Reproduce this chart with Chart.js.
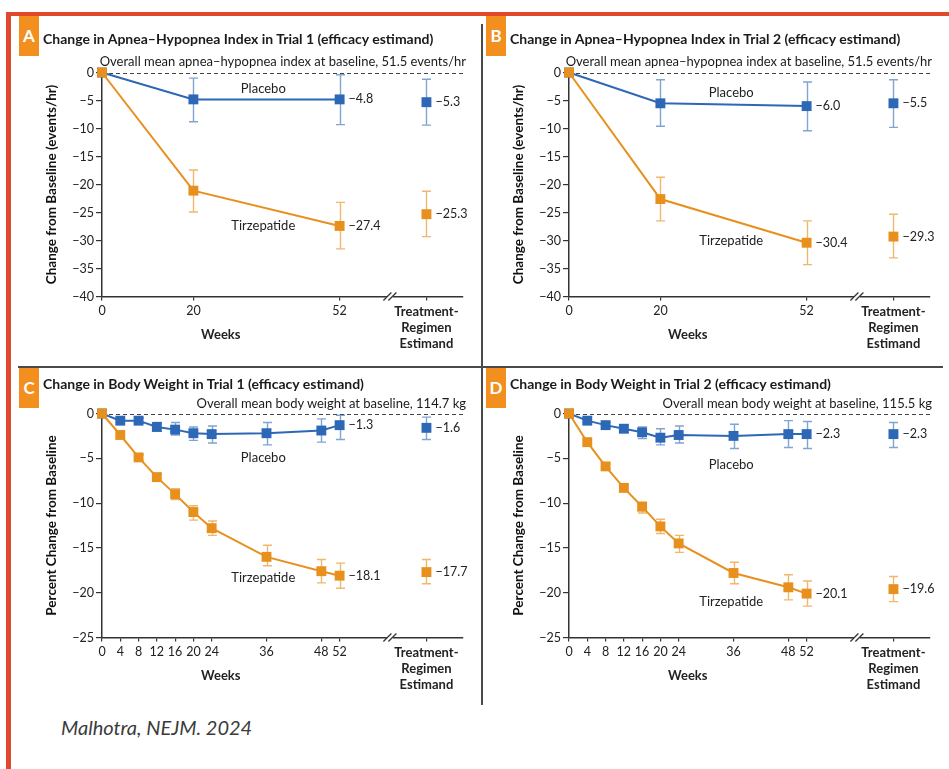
<!DOCTYPE html>
<html>
<head>
<meta charset="utf-8">
<script src="https://cdn.jsdelivr.net/npm/chart.js@4.4.1/dist/chart.umd.min.js"></script>
<style>
  body { margin: 0; width: 949px; height: 769px; background: #fff; position: relative; overflow: hidden; font-family: Lato, sans-serif; color: #1a1a1a; }
  canvas { position: absolute; }
  .red { position: absolute; background: #e1492f; }
  .sep { position: absolute; background: #4a4a4a; }
  .badge { position: absolute; width: 20px; height: 40px; background: #f28f1f; color: #fff; font-weight: bold; font-size: 17px; line-height: 40px; text-align: center; }
  .title { position: absolute; white-space: nowrap; font-weight: bold; font-size: 14px; line-height: 16px; }
  .sub { position: absolute; white-space: nowrap; font-size: 13px; line-height: 16px; }
  .cite { position: absolute; left: 61px; top: 715px; font-style: italic; font-size: 20px; line-height: 24px; color: #3b3b3b; }
</style>
</head>
<body>
<div class="red" style="left:6px; top:12px; width:943px; height:4px;"></div>
<div class="red" style="left:6px; top:12px; width:5px; height:757px;"></div>
<div class="sep" style="left:481px; top:24px; width:2px; height:681px;"></div>
<div class="sep" style="left:18px; top:366px; width:925px; height:2px;"></div>

<canvas id="cA" width="480" height="362" style="left:0; top:0;"></canvas>
<canvas id="cB" width="480" height="362" style="left:467px; top:0;"></canvas>
<canvas id="cC" width="480" height="362" style="left:0; top:341px;"></canvas>
<canvas id="cD" width="480" height="362" style="left:467px; top:341px;"></canvas>

<div class="badge" style="left:19px; top:16px;">A</div>
<div class="badge" style="left:486px; top:16px;">B</div>
<div class="badge" style="left:19px; top:368px;">C</div>
<div class="badge" style="left:486px; top:368px;">D</div>

<div class="title" style="left:43px; top:31px;">Change in Apnea–Hypopnea Index in Trial 1 (efficacy estimand)</div>
<div class="title" style="left:510px; top:31px;">Change in Apnea–Hypopnea Index in Trial 2 (efficacy estimand)</div>
<div class="title" style="left:43px; top:376px;">Change in Body Weight in Trial 1 (efficacy estimand)</div>
<div class="title" style="left:510px; top:376px;">Change in Body Weight in Trial 2 (efficacy estimand)</div>

<div class="sub" style="right:483px; top:53px;">Overall mean apnea–hypopnea index at baseline, 51.5 events/hr</div>
<div class="sub" style="right:17px; top:53px;">Overall mean apnea–hypopnea index at baseline, 51.5 events/hr</div>
<div class="sub" style="right:483px; top:395px;">Overall mean body weight at baseline, 114.7 kg</div>
<div class="sub" style="right:17px; top:395px;">Overall mean body weight at baseline, 115.5 kg</div>

<div class="cite">Malhotra, NEJM. 2024</div>

<script>
// x positions (weeks) and axis ticks
const weeksAHI = [0, 20, 52];
const weeksBW = [0, 4, 8, 12, 16, 20, 24, 36, 48, 52];
const yTicksAHI = [0, -5, -10, -15, -20, -25, -30, -35, -40];
const yTicksBW = [0, -5, -10, -15, -20, -25];
const treLabel = ['Treatment-', 'Regimen', 'Estimand'];

// A: apnea-hypopnea index, trial 1  (mean, upper CI, lower CI)
const ahi1PlaceboMean = [0, -4.8, -4.8];
const ahi1PlaceboHigh = [null, -1.0, -0.4];
const ahi1PlaceboLow = [null, -8.8, -9.3];
const ahi1TirzMean = [0, -21.1, -27.4];
const ahi1TirzHigh = [null, -17.4, -23.2];
const ahi1TirzLow = [null, -24.9, -31.5];
const ahi1PlaceboTRE = [-5.3, -1.2, -9.4];
const ahi1TirzTRE = [-25.3, -21.2, -29.3];

// B: apnea-hypopnea index, trial 2
const ahi2PlaceboMean = [0, -5.5, -6.0];
const ahi2PlaceboHigh = [null, -1.3, -1.7];
const ahi2PlaceboLow = [null, -9.6, -10.4];
const ahi2TirzMean = [0, -22.6, -30.4];
const ahi2TirzHigh = [null, -18.7, -26.5];
const ahi2TirzLow = [null, -26.5, -34.3];
const ahi2PlaceboTRE = [-5.5, -1.3, -9.8];
const ahi2TirzTRE = [-29.3, -25.3, -33.1];

// C: body weight, trial 1
const bw1PlaceboMean = [0, -0.8, -0.8, -1.5, -1.8, -2.2, -2.3, -2.2, -1.9, -1.3];
const bw1PlaceboHigh = [null, -0.5, -0.5, -1.0, -1.0, -1.5, -1.4, -1.0, -0.6, -0.2];
const bw1PlaceboLow = [null, -1.1, -1.1, -2.0, -2.4, -3.0, -3.3, -3.5, -3.2, -2.9];
const bw1TirzMean = [0, -2.4, -4.9, -7.1, -9.0, -11.0, -12.8, -16.0, -17.6, -18.1];
const bw1TirzHigh = [null, -2.1, -4.6, -6.7, -8.4, -10.3, -12.0, -14.7, -16.3, -16.7];
const bw1TirzLow = [null, -2.7, -5.2, -7.5, -9.6, -11.9, -13.6, -17.0, -18.9, -19.5];
const bw1PlaceboTRE = [-1.6, -0.4, -2.9];
const bw1TirzTRE = [-17.7, -16.3, -19.0];

// D: body weight, trial 2
const bw2PlaceboMean = [0, -0.8, -1.3, -1.7, -2.1, -2.7, -2.4, -2.5, -2.3, -2.3];
const bw2PlaceboHigh = [null, -0.6, -1.0, -1.3, -1.5, -1.7, -1.4, -1.2, -0.8, -0.9];
const bw2PlaceboLow = [null, -1.0, -1.6, -2.1, -2.8, -3.5, -3.3, -3.9, -3.8, -3.9];
const bw2TirzMean = [0, -3.2, -5.9, -8.3, -10.4, -12.6, -14.5, -17.8, -19.4, -20.1];
const bw2TirzHigh = [null, -3.0, -5.6, -7.9, -9.9, -11.8, -13.6, -16.6, -18.0, -18.7];
const bw2TirzLow = [null, -3.4, -6.2, -8.7, -11.1, -13.4, -15.5, -19.0, -20.8, -21.5];
const bw2PlaceboTRE = [-2.3, -1.0, -3.8];
const bw2TirzTRE = [-19.6, -18.2, -21.0];

// where the estimand column and the axis break sit on the week scale
const TRE_POS = 71, BREAK_POS = 63, X_MAX = 79;

const BLUE = '#2d68b6', BLUE_ERR = 'rgba(45,104,182,0.6)';
const ORANGE = '#e8901e', ORANGE_ERR = 'rgba(232,144,30,0.65)';
const AXIS = '#333';
const FONT = 'Lato';

Chart.defaults.font.family = FONT;
Chart.defaults.color = '#222';

const minus = v => (v < 0 ? '\u2212' : '') + Math.abs(v);
const minus1 = v => (v < 0 ? '\u2212' : '') + Math.abs(v).toFixed(1);

const panels = [
  { id: 'cA', weeks: weeksAHI, yTicks: yTicksAHI, yTitle: 'Change from Baseline (events/hr)',
    placebo: [ahi1PlaceboMean, ahi1PlaceboHigh, ahi1PlaceboLow, ahi1PlaceboTRE], placeboAt: [35.3, -2.9],
    tirz: [ahi1TirzMean, ahi1TirzHigh, ahi1TirzLow, ahi1TirzTRE], tirzAt: [35.3, -27.3] },
  { id: 'cB', weeks: weeksAHI, yTicks: yTicksAHI, yTitle: 'Change from Baseline (events/hr)',
    placebo: [ahi2PlaceboMean, ahi2PlaceboHigh, ahi2PlaceboLow, ahi2PlaceboTRE], placeboAt: [35.5, -3.6],
    tirz: [ahi2TirzMean, ahi2TirzHigh, ahi2TirzLow, ahi2TirzTRE], tirzAt: [35.5, -30.0] },
  { id: 'cC', weeks: weeksBW, yTicks: yTicksBW, yTitle: 'Percent Change from Baseline',
    placebo: [bw1PlaceboMean, bw1PlaceboHigh, bw1PlaceboLow, bw1PlaceboTRE], placeboAt: [35.3, -5.0],
    tirz: [bw1TirzMean, bw1TirzHigh, bw1TirzLow, bw1TirzTRE], tirzAt: [35.3, -18.3] },
  { id: 'cD', weeks: weeksBW, yTicks: yTicksBW, yTitle: 'Percent Change from Baseline',
    placebo: [bw2PlaceboMean, bw2PlaceboHigh, bw2PlaceboLow, bw2PlaceboTRE], placeboAt: [35.5, -5.7],
    tirz: [bw2TirzMean, bw2TirzHigh, bw2TirzLow, bw2TirzTRE], tirzAt: [35.5, -21.0] }
];

function makeChart(p) {
  const series = [
    { name: 'Placebo', color: BLUE, err: BLUE_ERR, mean: p.placebo[0], high: p.placebo[1], low: p.placebo[2], tre: p.placebo[3], at: p.placeboAt },
    { name: 'Tirzepatide', color: ORANGE, err: ORANGE_ERR, mean: p.tirz[0], high: p.tirz[1], low: p.tirz[2], tre: p.tirz[3], at: p.tirzAt }
  ];

  const marker = c => ({
    borderColor: c, backgroundColor: c, pointBackgroundColor: c,
    pointStyle: 'rect', pointRadius: 7, pointBorderWidth: 0, clip: false
  });
  // Chart.js paints the first dataset on top, so tirzepatide goes first
  const datasets = [];
  series.slice().reverse().forEach(s => {
    datasets.push(Object.assign({ label: s.name, borderWidth: 2,
      data: p.weeks.map((w, i) => ({ x: w, y: s.mean[i] })) }, marker(s.color)));
    datasets.push(Object.assign({ label: s.name + ' (treatment-regimen)', showLine: false,
      data: [{ x: TRE_POS, y: s.tre[0] }] }, marker(s.color)));
  });

  const extras = {
    id: 'extras',
    beforeDatasetsDraw(chart) {
      const { ctx, chartArea: ca, scales: { x, y } } = chart;
      ctx.save();
      // dashed baseline at 0
      const y0 = Math.round(y.getPixelForValue(0)) + 0.5;
      ctx.setLineDash([4, 3]);
      ctx.strokeStyle = '#444';
      ctx.lineWidth = 1;
      ctx.beginPath(); ctx.moveTo(ca.left, y0); ctx.lineTo(ca.right, y0); ctx.stroke();
      ctx.setLineDash([]);
      // error bars
      series.forEach(s => {
        ctx.strokeStyle = s.err;
        ctx.lineWidth = 1.4;
        const bars = p.weeks.map((w, i) => [w, s.high[i], s.low[i]]);
        bars.push([TRE_POS, s.tre[1], s.tre[2]]);
        bars.forEach(([w, hi, lo]) => {
          if (hi == null) return;
          const px = Math.round(x.getPixelForValue(w)) + 0.5;
          const ph = y.getPixelForValue(hi), pl = y.getPixelForValue(lo);
          ctx.beginPath();
          ctx.moveTo(px, ph); ctx.lineTo(px, pl);
          ctx.moveTo(px - 4.5, ph); ctx.lineTo(px + 4.5, ph);
          ctx.moveTo(px - 4.5, pl); ctx.lineTo(px + 4.5, pl);
          ctx.stroke();
        });
      });
      ctx.restore();
    },
    afterDraw(chart) {
      const { ctx, chartArea: ca, scales: { x, y } } = chart;
      ctx.save();
      // axis break
      const bx = x.getPixelForValue(BREAK_POS), by = ca.bottom;
      ctx.fillStyle = '#fff';
      ctx.fillRect(bx - 3, by - 2, 6, 4);
      ctx.strokeStyle = AXIS;
      ctx.lineWidth = 1.2;
      [-2.5, 2.5].forEach(d => {
        ctx.beginPath(); ctx.moveTo(bx + d - 4, by + 4); ctx.lineTo(bx + d + 4, by - 4); ctx.stroke();
      });
      // series names and end values
      ctx.fillStyle = '#222';
      ctx.textBaseline = 'middle';
      series.forEach(s => {
        ctx.font = '13px ' + FONT;
        ctx.textAlign = 'center';
        ctx.fillText(s.name, x.getPixelForValue(s.at[0]), y.getPixelForValue(s.at[1]));
        ctx.font = '12.5px ' + FONT;
        ctx.textAlign = 'left';
        const last = s.mean.length - 1;
        ctx.fillText(minus1(s.mean[last]), x.getPixelForValue(p.weeks[last]) + 9, y.getPixelForValue(s.mean[last]));
        ctx.fillText(minus1(s.tre[0]), x.getPixelForValue(TRE_POS) + 9, y.getPixelForValue(s.tre[0]));
      });
      ctx.font = 'bold 13px ' + FONT;
      ctx.textAlign = 'center';
      ctx.fillText('Weeks', x.getPixelForValue(26), ca.bottom + 38.5);
      ctx.restore();
    }
  };

  const tickGrid = len => ({ display: true, drawOnChartArea: false, drawTicks: true, tickLength: len, color: AXIS, lineWidth: 1.2 });

  return new Chart(document.getElementById(p.id), {
    type: 'line',
    data: { datasets },
    options: {
      responsive: false,
      animation: false,
      events: [],
      layout: { padding: { left: 40, top: 72.5, right: 17, bottom: 7.5 } },
      plugins: { legend: { display: false }, tooltip: { enabled: false } },
      scales: {
        x: {
          type: 'linear', min: 0, max: X_MAX,
          afterBuildTicks: sc => { sc.ticks = p.weeks.concat([TRE_POS]).map(v => ({ value: v })); },
          afterFit: sc => { sc.height = 58; },
          grid: tickGrid(4),
          border: { display: true, color: AXIS, width: 1.5 },
          ticks: {
            padding: 3, autoSkip: false, maxRotation: 0, color: '#222',
            callback: v => (v === TRE_POS ? treLabel : String(v)),
            font: c => (c.tick && c.tick.value === TRE_POS)
              ? { family: FONT, size: 13, weight: 'bold', lineHeight: 1.25 }
              : { family: FONT, size: 12.5, lineHeight: 1.2 }
          }
        },
        y: {
          type: 'linear', min: p.yTicks[p.yTicks.length - 1], max: 0,
          afterBuildTicks: sc => { sc.ticks = p.yTicks.map(v => ({ value: v })); },
          afterFit: sc => { sc.width = 62; },
          grid: tickGrid(6),
          border: { display: true, color: AXIS, width: 1.5 },
          ticks: { padding: 2, color: '#222', font: { family: FONT, size: 12.5 }, callback: v => minus(v) },
          title: { display: true, text: p.yTitle, color: '#111', font: { family: FONT, size: 13.5, weight: 'bold' }, padding: { top: 4, bottom: 0 } }
        }
      }
    },
    plugins: [extras]
  });
}

panels.forEach(makeChart);
</script>
</body>
</html>
